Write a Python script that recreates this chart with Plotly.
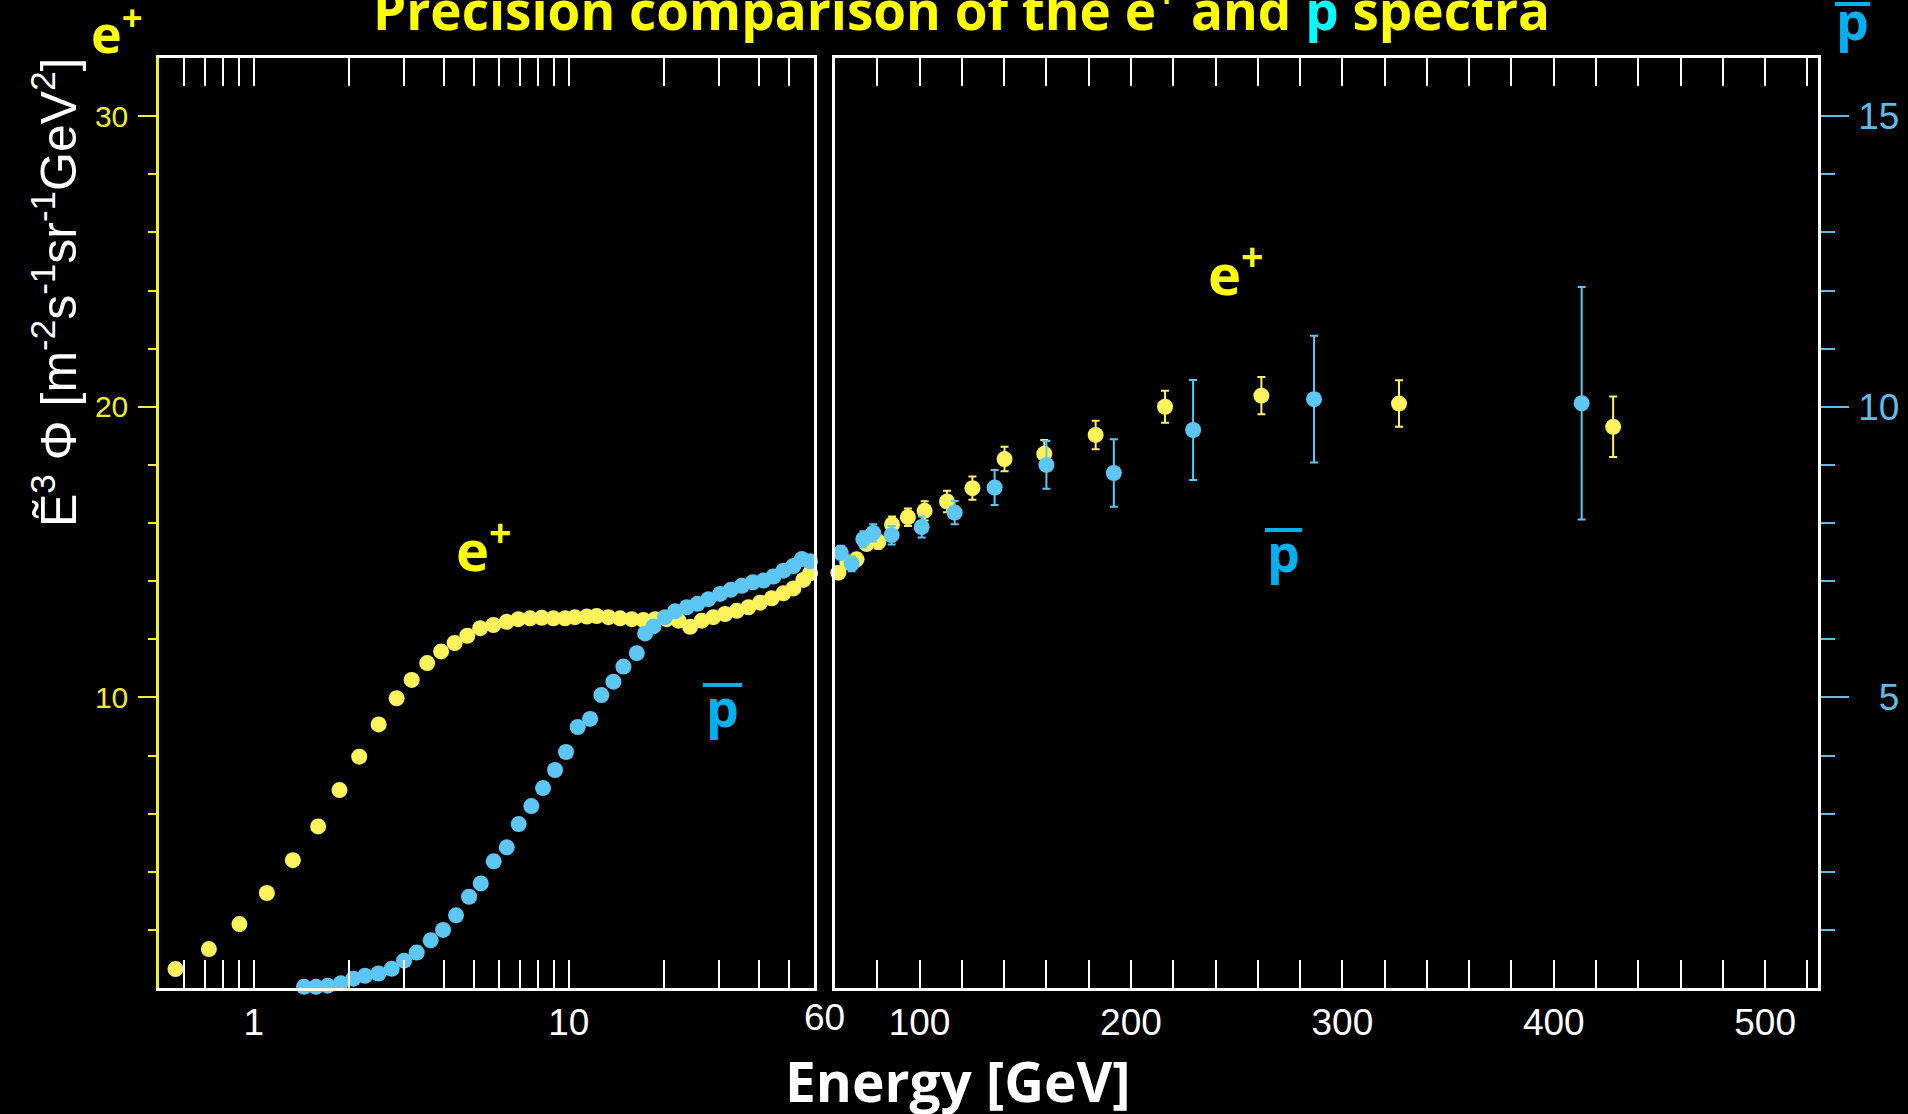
import math
import plotly.graph_objects as go

W, H = 1908, 1114

# ---- positron spectrum, low-energy panel (log axis), E^3 flux ----
ep_low_E = [0.564, 0.72, 0.90, 1.10, 1.33, 1.60, 1.87, 2.16, 2.49, 2.84, 3.17, 3.55, 3.93,
            4.34, 4.76, 5.23, 5.76, 6.35, 6.91, 7.53, 8.20, 8.93, 9.72, 10.46, 11.40, 12.26,
            13.35, 14.54, 15.84, 17.24, 18.78, 20.45, 22.27, 24.25, 26.42, 28.76, 31.33,
            34.12, 37.15, 40.46, 44.06, 47.97, 51.6, 55.5, 58.3]
ep_low_F = [0.65, 1.34, 2.20, 3.27, 4.40, 5.56, 6.81, 7.96, 9.07, 9.97, 10.6, 11.18, 11.58,
            11.87, 12.12, 12.38, 12.49, 12.60, 12.69, 12.72, 12.74, 12.72, 12.72, 12.76, 12.78,
            12.80, 12.76, 12.72, 12.69, 12.66, 12.69, 12.69, 12.64, 12.43, 12.64, 12.76, 12.87,
            12.98, 13.10, 13.26, 13.41, 13.58, 13.75, 14.04, 14.27]

# ---- antiproton spectrum, low-energy panel (right-hand scale) ----
pb_low_E = [1.443, 1.575, 1.716, 1.887, 2.07, 2.254, 2.485, 2.739, 2.998, 3.289, 3.642, 3.987,
            4.384, 4.822, 5.252, 5.773, 6.35, 6.93, 7.60, 8.28, 9.04, 9.795, 10.67, 11.68,
            12.68, 13.85, 14.9, 16.43, 17.46, 18.55, 20.2, 21.73, 23.67, 25.59, 27.72, 30.2,
            32.65, 35.4, 38.35, 41.45, 44.6, 47.97, 51.6, 54.9, 58.3]
pb_low_F = [0.02, 0.02, 0.04, 0.08, 0.16, 0.21, 0.25, 0.33, 0.47, 0.61, 0.82, 1.0, 1.25, 1.57,
            1.80, 2.18, 2.42, 2.82, 3.13, 3.44, 3.75, 4.06, 4.49, 4.63, 5.04, 5.27, 5.53, 5.76,
            6.10, 6.22, 6.38, 6.48, 6.55, 6.61, 6.69, 6.78, 6.85, 6.92, 6.98, 7.01, 7.08, 7.18,
            7.26, 7.38, 7.34]

# ---- high-energy panel (linear axis) ----
ep_high_E = [61.6, 65.8, 70.2, 75.0, 80.5, 87.0, 94.5, 102.4, 113.0, 125.0, 140.2, 159.0,
             183.3, 216.1, 261.7, 326.8, 428.1]
ep_high_F = [14.29, 14.65, 14.75, 15.28, 15.35, 15.95, 16.2, 16.42, 16.74, 17.2, 18.2, 18.38,
             19.03, 20.0, 20.38, 20.11, 19.31]
ep_high_err = [0.15, 0.18, 0.2, 0.22, 0.24, 0.27, 0.3, 0.33, 0.37, 0.4, 0.42, 0.48, 0.49,
               0.55, 0.64, 0.8, 1.04]

pb_high_E = [62.7, 67.9, 73.4, 78.1, 86.8, 101.0, 116.6, 135.5, 160.0, 191.9, 229.4, 286.6, 413.2]
pb_high_F = [7.49, 7.30, 7.72, 7.83, 7.79, 7.93, 8.18, 8.61, 9.0, 8.86, 9.6, 10.13, 10.06]
pb_high_err = [0.12, 0.13, 0.14, 0.15, 0.16, 0.18, 0.2, 0.3, 0.41, 0.58, 0.86, 1.09, 2.0]

# ---- axis ticks ----
low_major = [1, 10]
low_minor = [0.6, 0.7, 0.8, 0.9, 2, 3, 4, 5, 6, 7, 8, 9, 20, 30, 40, 50]
high_major = [100, 200, 300, 400, 500]
high_minor = [80, 120, 140, 160, 180, 220, 240, 260, 280, 320, 340, 360, 380,
              420, 440, 460, 480, 520]
ep_major = [10, 20, 30]
ep_minor = [2, 4, 6, 8, 12, 14, 16, 18, 22, 24, 26, 28]
pb_major = [5, 10, 15]
pb_minor = [1, 2, 3, 4, 6, 7, 8, 9, 11, 12, 13, 14]

YEL_MK = "#FFF35C"
BLU_MK = "#5CC6F4"
YEL_TXT = "#FFFF00"
YEL_AX = "#F2EA2E"
BLU_TXT = "#00B0F0"
BLU_AX = "#5BBDE8"
CYAN = "#00FFFF"
TXT_FONT = "Open Sans"
NUM_FONT = "Liberation Sans"

# panel geometry (pixels)
L0, L1, R0, R1 = 159, 814, 835, 1818
TOP, BOT = 58, 988
FRAME_W = 2.5


def fx(p):
    return p / W


def fy(p):
    return 1 - p / H


fig = go.Figure()

marker_size = 16
fig.add_trace(go.Scatter(x=pb_low_E, y=pb_low_F, xaxis="x", yaxis="y4", mode="markers",
                         marker=dict(color=BLU_MK, size=marker_size), cliponaxis=False))
fig.add_trace(go.Scatter(x=ep_low_E, y=ep_low_F, xaxis="x", yaxis="y", mode="markers",
                         marker=dict(color=YEL_MK, size=marker_size), cliponaxis=False))
fig.add_trace(go.Scatter(x=pb_high_E, y=pb_high_F, xaxis="x2", yaxis="y3", mode="markers",
                         marker=dict(color=BLU_MK, size=marker_size),
                         error_y=dict(type="data", array=pb_high_err, color=BLU_MK,
                                      thickness=2, width=4),
                         cliponaxis=False))
fig.add_trace(go.Scatter(x=ep_high_E, y=ep_high_F, xaxis="x2", yaxis="y2", mode="markers",
                         marker=dict(color=YEL_MK, size=marker_size),
                         error_y=dict(type="data", array=ep_high_err, color=YEL_MK,
                                      thickness=2, width=4),
                         cliponaxis=False))

xtickfont = dict(family=NUM_FONT, size=37, color="white")
common_x = dict(showline=True, linecolor="white", linewidth=FRAME_W, mirror="allticks",
                ticks="inside", ticklen=28, tickwidth=2, tickcolor="white",
                showgrid=False, zeroline=False, tickfont=xtickfont, ticklabelstandoff=0,
                automargin=False)
hidden_y = dict(showline=True, linecolor="white", linewidth=FRAME_W, ticks="",
                showticklabels=False, showgrid=False, zeroline=False, automargin=False)
ydomain = [fy(BOT), fy(TOP)]

# right-hand labels are right-aligned, so single digits get a figure-space pad
pb_ticktext = [("\u2007" + str(v)) if v < 10 else str(v) for v in pb_major]

fig.update_layout(
    width=W, height=H,
    margin=dict(l=0, r=0, t=0, b=0, autoexpand=False),
    paper_bgcolor="black", plot_bgcolor="black",
    showlegend=False,
    xaxis=dict(domain=[fx(L0), fx(L1)], type="log",
               range=[math.log10(0.5), math.log10(60)], anchor="y",
               tickmode="array", tickvals=low_major, ticktext=[str(v) for v in low_major],
               minor=dict(tickmode="array", tickvals=low_minor, ticks="inside", ticklen=13,
                          tickwidth=2, tickcolor="white"),
               **common_x),
    xaxis2=dict(domain=[fx(R0), fx(R1)], range=[60, 525], anchor="y2",
                tickmode="array", tickvals=high_major, ticktext=[str(v) for v in high_major],
                minor=dict(tickmode="array", tickvals=high_minor, ticks="inside", ticklen=13,
                           tickwidth=2, tickcolor="white"),
                **common_x),
    yaxis=dict(domain=ydomain, range=[0, 32], anchor="x", side="left",
               showline=True, linecolor=YEL_AX, linewidth=FRAME_W,
               ticks="outside", ticklen=18, tickwidth=2, tickcolor=YEL_AX,
               tickmode="array", tickvals=ep_major, ticktext=[str(v) for v in ep_major],
               minor=dict(tickmode="array", tickvals=ep_minor, ticks="outside", ticklen=8,
                          tickwidth=2, tickcolor=YEL_AX),
               tickfont=dict(family=NUM_FONT, size=30, color=YEL_AX),
               ticklabelstandoff=4, showgrid=False, zeroline=False, automargin=False),
    yaxis4=dict(overlaying="y", range=[0, 16], anchor="x", side="right", **hidden_y),
    yaxis2=dict(domain=ydomain, range=[0, 32], anchor="x2", side="left", **hidden_y),
    yaxis3=dict(overlaying="y2", range=[0, 16], anchor="x2", side="right",
                showline=True, linecolor="white", linewidth=FRAME_W,
                ticks="outside", ticklen=28, tickwidth=2, tickcolor=BLU_AX,
                tickmode="array", tickvals=pb_major, ticktext=pb_ticktext,
                minor=dict(tickmode="array", tickvals=pb_minor, ticks="outside", ticklen=14,
                           tickwidth=2, tickcolor=BLU_AX),
                tickfont=dict(family=NUM_FONT, size=37, color=BLU_AX),
                ticklabelstandoff=2, showgrid=False, zeroline=False, automargin=False),
)

annotations = []


def label(text, x, y, size, color, family=TXT_FONT, bold=True, angle=0):
    annotations.append(dict(
        text=f"<b>{text}</b>" if bold else text, x=fx(x), y=fy(y), xref="paper", yref="paper",
        xanchor="center", yanchor="middle", showarrow=False, textangle=angle,
        font=dict(family=family, size=size, color=color)))


# title (partly above the page edge)
label(f"Precision comparison of the e<sup>+</sup> and <span style='color:{CYAN}'>p</span> spectra",
      961, 7, 53, YEL_TXT)
# corner series keys
label("e<sup>+</sup>", 117, 30, 52, YEL_TXT)
label("p", 1852, 20, 52, BLU_TXT)
# in-panel series labels
label("e<sup>+</sup>", 484, 546, 56, YEL_TXT)
label("p", 722, 706, 52, BLU_TXT)
label("e<sup>+</sup>", 1236, 270, 56, YEL_TXT)
label("p", 1283, 551, 52, BLU_TXT)
# axis titles
label("Energy [GeV]", 958, 1080, 55, "white")
label("Ẽ<sup>3</sup> Φ [m<sup>-2</sup>s<sup>-1</sup>sr<sup>-1</sup>GeV<sup>2</sup>]",
      55, 292, 50, "white", family=NUM_FONT, bold=False, angle=-90)
# shared edge value between the two panels
label("60", 824, 1017, 37, "white", family=NUM_FONT, bold=False)

fig.update_layout(annotations=annotations)

# bars over the antiproton symbol
shapes = []
for x0, x1, y in [(1835, 1870, 4), (703, 742, 685), (1265, 1302, 530)]:
    shapes.append(dict(type="line", xref="paper", yref="paper",
                       x0=fx(x0), x1=fx(x1), y0=fy(y), y1=fy(y),
                       line=dict(color=BLU_TXT, width=4)))
fig.update_layout(shapes=shapes)

fig.write_html("out.html")
